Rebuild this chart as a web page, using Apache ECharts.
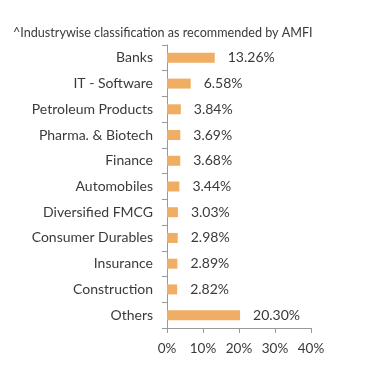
<!DOCTYPE html>
<html><head><meta charset="utf-8">
<script src="https://cdn.jsdelivr.net/npm/echarts@6/dist/echarts.min.js"></script>
<style>html,body{margin:0;padding:0;background:#fff}#c{width:391px;height:382px}</style>
</head><body><div id="c"></div>
<script>
const categories = ["Banks","IT - Software","Petroleum Products","Pharma. & Biotech","Finance","Automobiles","Diversified FMCG","Consumer Durables","Insurance","Construction","Others"];
const values = [13.26,6.58,3.84,3.69,3.68,3.44,3.03,2.98,2.89,2.82,20.30];
const xTicks = [0,10,20,30,40];
const title = "^Industrywise classification as recommended by AMFI";

const chart = echarts.init(document.getElementById('c'));
chart.setOption({
  animation:false,
  textStyle:{fontFamily:'Lato'},
  title:{text:title,left:8,top:21,textStyle:{fontSize:12.6,fontWeight:'normal',color:'#3a3a3a',fontFamily:'Lato'}},
  grid:{left:167,right:80,top:45,bottom:54,containLabel:false},
  xAxis:{type:'value',min:xTicks[0],max:xTicks[xTicks.length-1],interval:10,
    axisLine:{show:true,lineStyle:{color:'#999'}},
    axisTick:{show:true,length:5,lineStyle:{color:'#999'}},
    splitLine:{show:false},
    axisLabel:{formatter:'{value}%',color:'#3a3a3a',fontSize:13.5,margin:14,fontFamily:'Lato'}},
  yAxis:{type:'category',data:categories,inverse:true,
    axisLine:{show:true,lineStyle:{color:'#999'}},
    axisTick:{show:true,length:5,lineStyle:{color:'#999'}},
    axisLabel:{color:'#3a3a3a',fontSize:14,margin:14,fontFamily:'Lato'}},
  series:[{type:'bar',data:values,barWidth:10,itemStyle:{color:'#F0AD64'},
    label:{show:true,position:'right',distance:13,color:'#3a3a3a',fontSize:14,fontFamily:'Lato',
      formatter:p=>p.value.toFixed(2)+'%'}}]
});
</script></body></html>
